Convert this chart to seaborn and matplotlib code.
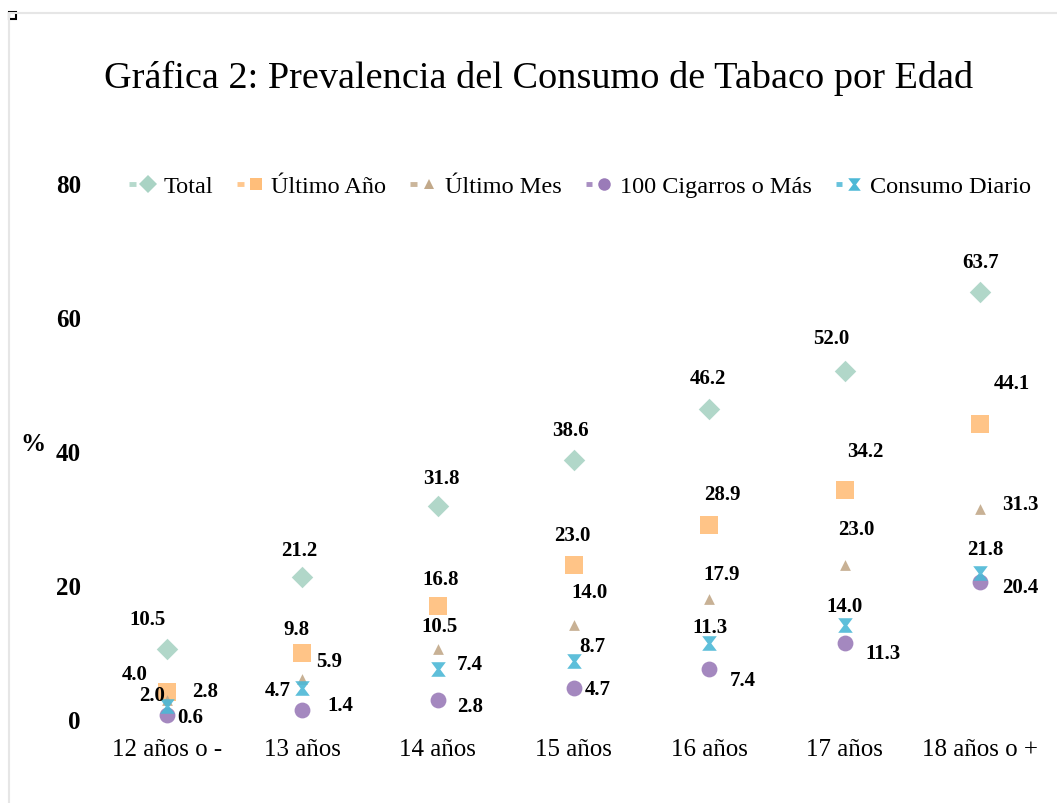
import matplotlib
matplotlib.use("Agg")
import matplotlib.pyplot as plt
import seaborn as sns
import pandas as pd
from matplotlib.lines import Line2D
from matplotlib.path import Path
from matplotlib.legend_handler import HandlerBase

# ---- data ----
edades = ["12 años o -", "13 años", "14 años", "15 años", "16 años", "17 años", "18 años o +"]
series = ["Total", "Último Año", "Último Mes", "100 Cigarros o Más", "Consumo Diario"]
total = [10.5, 21.2, 31.8, 38.6, 46.2, 52.0, 63.7]
ultimo_anio = [4.0, 9.8, 16.8, 23.0, 28.9, 34.2, 44.1]
ultimo_mes = [2.8, 5.9, 10.5, 14.0, 17.9, 23.0, 31.3]
cien_cigarros = [0.6, 1.4, 2.8, 4.7, 7.4, 11.3, 20.4]
consumo_diario = [2.0, 4.7, 7.4, 8.7, 11.3, 14.0, 21.8]
yticks = [0, 20, 40, 60, 80]

values = {"Total": total, "Último Año": ultimo_anio, "Último Mes": ultimo_mes,
          "100 Cigarros o Más": cien_cigarros, "Consumo Diario": consumo_diario}
df = pd.DataFrame([{"Edad": e, "Serie": s, "Valor": values[s][i]}
                   for s in series for i, e in enumerate(edades)])

# ---- style ----
colors = {"Total": "#a9d3c4", "Último Año": "#ffbe7a", "Último Mes": "#c2a98a",
          "100 Cigarros o Más": "#9a7bb8", "Consumo Diario": "#4cb8d6"}
hourglass = Path([(-1, 1), (1, 1), (0.25, 0), (1, -1), (-1, -1), (-0.25, 0), (-1, 1)],
                 [Path.MOVETO] + [Path.LINETO] * 5 + [Path.CLOSEPOLY])
markers = {"Total": "D", "Último Año": "s", "Último Mes": "^",
           "100 Cigarros o Más": "o", "Consumo Diario": hourglass}
sizes = {"Total": 120, "Último Año": 150, "Último Mes": 60,
         "100 Cigarros o Más": 130, "Consumo Diario": 110}
# label offsets in pixels (dx, dy) per series, per age group
offsets = {
    "Total": [(-19, 30), (-3, 27), (3, 28), (-3, 30), (-1, 31), (-13, 33), (0, 30)],
    "Último Año": [(-32, 18), (-6, 24), (3, 27), (-1, 30), (13, 31), (21, 39), (32, 41)],
    "Último Mes": [(38, 9), (27, 18), (2, 23), (16, 33), (13, 25), (12, 36), (40, 5)],
    "100 Cigarros o Más": [(23, -2), (38, 5), (32, -6), (24, -1), (34, -11), (38, -10), (40, -5)],
    "Consumo Diario": [(-15, 11), (-25, -2), (32, 5), (19, 15), (1, 16), (0, 19), (5, 24)],
}

sns.set_theme(style="white")
plt.rcParams["font.family"] = ["Liberation Serif", "DejaVu Serif"]
plt.rcParams["text.color"] = "black"

fig = plt.figure(figsize=(10.57, 8.04), dpi=100)
ax = fig.add_axes([99 / 1057, 1 - 720 / 804, (1048 - 99) / 1057, (720 - 184) / 804])

for s in series:
    sub = df[df["Serie"] == s]
    sns.scatterplot(data=sub, x="Edad", y="Valor", ax=ax, color=colors[s],
                    marker=markers[s], s=sizes[s], linewidth=0, alpha=0.9,
                    legend=False, zorder=3)

for coll in ax.collections:
    coll.set_clip_on(False)

px2pt = 72 / 100
for s in series:
    for i, v in enumerate(values[s]):
        dx, dy = offsets[s][i]
        ax.annotate(f"{v:.1f}", (i, v), xytext=(dx * px2pt, dy * px2pt),
                    textcoords="offset points", ha="center", va="center",
                    fontsize=15, fontweight="bold", color="black",
                    annotation_clip=False)

ax.set_xlim(-0.5, 6.5)
ax.set_ylim(0, 80)
ax.set_yticks(yticks)
ax.set_yticklabels([str(t) for t in yticks], fontsize=18, fontweight="bold", color="black")
ax.set_xticks(range(len(edades)))
ax.set_xticklabels(edades, fontsize=18, color="black")
ax.tick_params(axis="x", pad=14, length=0)
ax.tick_params(axis="y", pad=13, length=0)
ax.set_xlabel("")
ax.set_ylabel("")
for sp in ax.spines.values():
    sp.set_visible(False)
ax.grid(False)

fig.text(33 / 1057, 1 - 445 / 804, "%", fontsize=18, fontweight="bold",
         ha="center", va="center", color="black")

fig.text(539 / 1057, 1 - 78 / 804,
         "Gráfica 2: Prevalencia del Consumo de Tabaco por Edad",
         fontsize=27.5, ha="center", va="center", color="black")


class DashMarkerHandler(HandlerBase):
    def create_artists(self, legend, orig_handle, xdescent, ydescent, width,
                       height, fontsize, trans):
        y = height / 2 - ydescent
        x0 = -xdescent
        c = orig_handle.get_color()
        line = Line2D([x0, x0 + width * 0.3], [y, y], color=c, lw=3.5,
                      alpha=0.85, solid_capstyle="butt")
        mk = Line2D([x0 + width * 0.85], [y], marker=orig_handle.get_marker(),
                    color=c, markersize=orig_handle.get_markersize(),
                    markeredgewidth=0, linestyle="none")
        line.set_transform(trans)
        mk.set_transform(trans)
        return [line, mk]


handles = [Line2D([0], [0], color=colors[s], marker=markers[s], linestyle="none",
                  markersize=9 if s != "Último Mes" else 7, label=s) for s in series]
fig.legend(handles=handles, loc="center", bbox_to_anchor=(580 / 1057, 1 - 187 / 804),
           ncol=5, frameon=False, fontsize=17.5, handlelength=0.9, handletextpad=0.5,
           columnspacing=1.0, handler_map={Line2D: DashMarkerHandler()})

# frame decorations
fig.add_artist(Line2D([9 / 1057, 1], [1 - 14 / 804, 1 - 14 / 804], color="#e6e6e6", lw=1.5))
fig.add_artist(Line2D([9 / 1057, 9 / 1057], [0, 1 - 14 / 804], color="#e6e6e6", lw=1.5))
fig.add_artist(plt.Rectangle((9 / 1057, 1 - 20 / 804), 7 / 1057, 7 / 804,
                             facecolor="white", edgecolor="black", lw=1.5))

fig.savefig("out.png", dpi=100)
